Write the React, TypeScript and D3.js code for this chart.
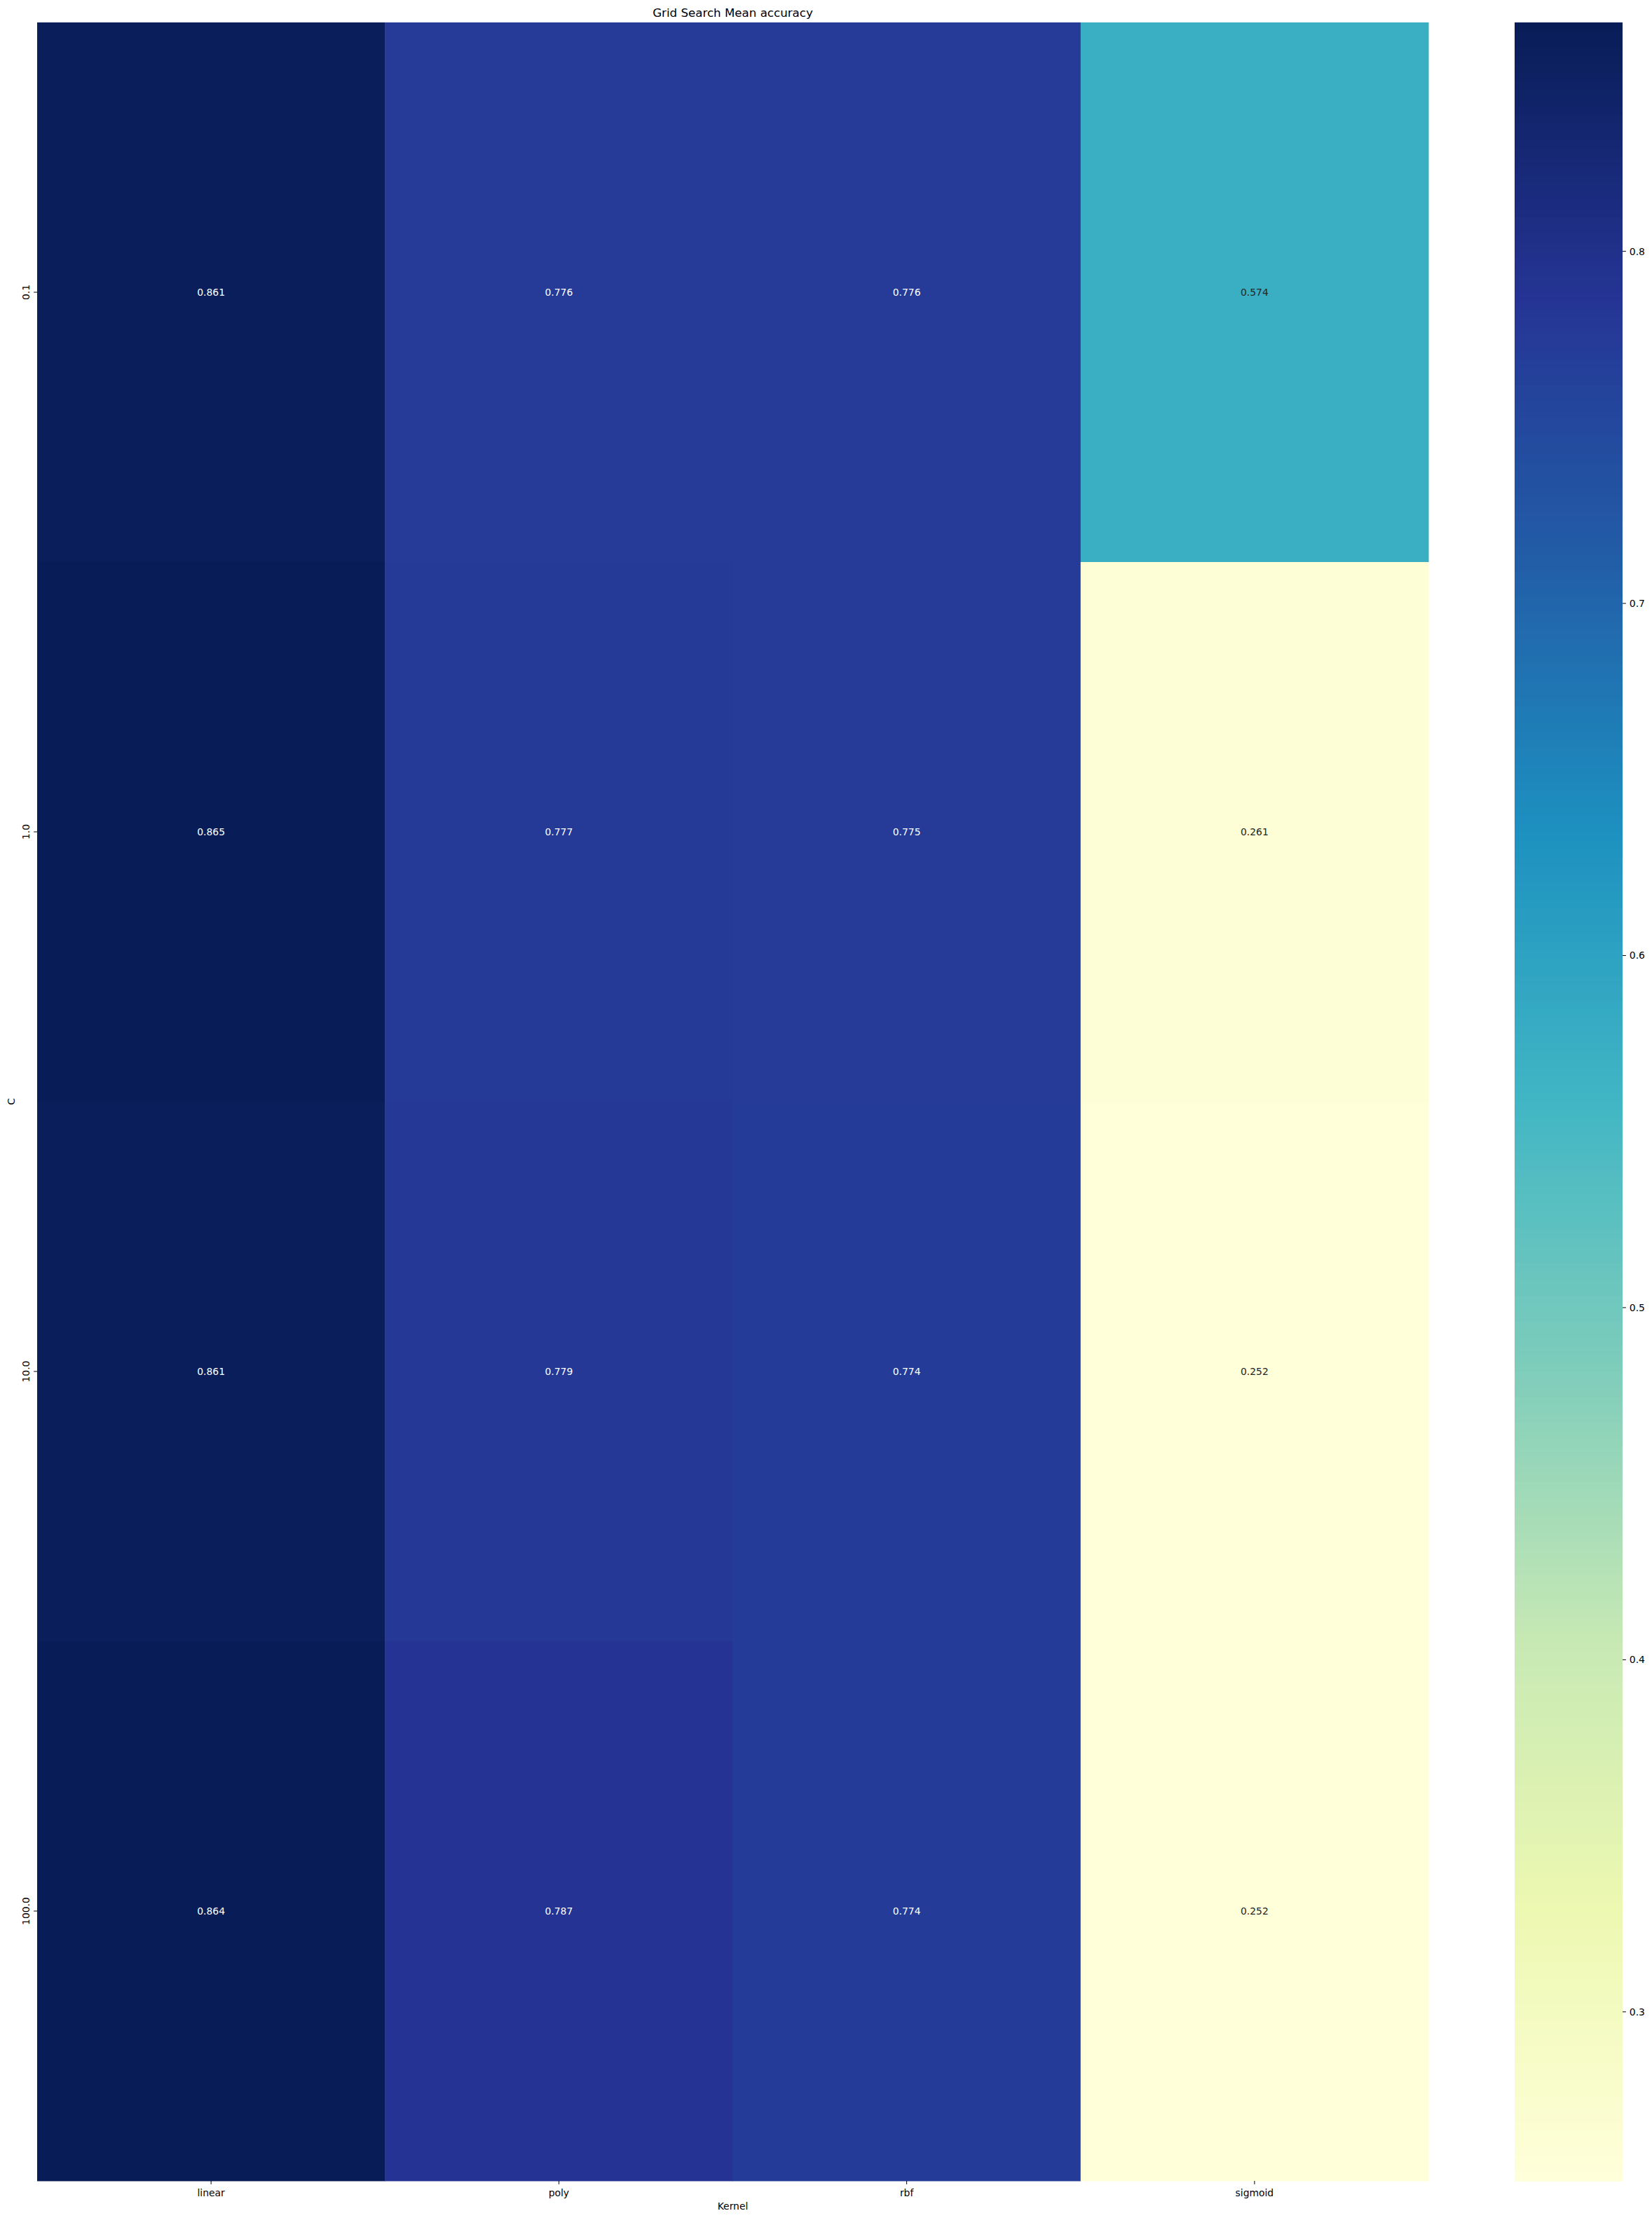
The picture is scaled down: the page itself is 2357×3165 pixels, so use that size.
import * as d3 from "d3";

const kernels = ["linear", "poly", "rbf", "sigmoid"];
const cValues = ["0.1", "1.0", "10.0", "100.0"];
// mean accuracy, one row per C value, columns follow kernels
const row01 = [0.861, 0.776, 0.776, 0.574];
const row1 = [0.865, 0.777, 0.775, 0.261];
const row10 = [0.861, 0.779, 0.774, 0.252];
const row100 = [0.864, 0.787, 0.774, 0.252];
const scores = [row01, row1, row10, row100];
const cbarTicks = [0.3, 0.4, 0.5, 0.6, 0.7, 0.8];

// matplotlib YlGnBu anchors
const ylgnbu = ["#ffffd9", "#edf8b1", "#c7e9b4", "#7fcdbb", "#41b6c4", "#1d91c0", "#225ea8", "#253494", "#081d58"];

const W = 2357;
const H = 3165;
const margin = { top: 32, left: 53, right: 2038, bottom: 3112 };
const cbar = { x0: 2161, x1: 2315 };
const font = "DejaVu Sans, sans-serif";
const fs = 13.9;

const App = () => {
    const allVals = scores.flat();
    const vmin = d3.min(allVals) as number;
    const vmax = d3.max(allVals) as number;

    const x = d3.scaleBand().domain(kernels).range([margin.left, margin.right]);
    const y = d3.scaleBand().domain(cValues).range([margin.top, margin.bottom]);
    const norm = d3.scaleLinear().domain([vmin, vmax]).range([0, 1]).clamp(true);
    const cmapCont = d3.scaleLinear<string>()
        .domain(d3.range(ylgnbu.length).map(i => i / (ylgnbu.length - 1)))
        .range(ylgnbu)
        .interpolate(d3.interpolateRgb);
    const cmap = (t: number) => cmapCont(Math.min(255, Math.floor(t * 256)) / 255);
    const color = (v: number) => cmap(norm(v));

    const textColor = (v: number) => {
        const c = d3.rgb(color(v));
        const lin = [c.r, c.g, c.b].map(u => {
            const s = u / 255;
            return s <= 0.03928 ? s / 12.92 : Math.pow((s + 0.055) / 1.055, 2.4);
        });
        const lum = 0.2126 * lin[0] + 0.7152 * lin[1] + 0.0722 * lin[2];
        return lum > 0.3 ? "#262626" : "#ffffff";
    };

    const cy = d3.scaleLinear().domain([vmin, vmax]).range([margin.bottom, margin.top]);
    const steps = d3.range(256);
    const stepH = (margin.bottom - margin.top) / 256;

    return (
        <svg width={W} height={H} style={{ position: "absolute", left: 0, top: 0, background: "#fff" }} fontFamily={font}>
            <text x={(margin.left + margin.right) / 2} y={24} textAnchor="middle" fontSize={16.67} fill="#000">
                Grid Search Mean accuracy
            </text>

            {scores.map((row, i) =>
                row.map((v, j) => (
                    <g key={`${i}-${j}`}>
                        <rect
                            x={x(kernels[j])}
                            y={y(cValues[i])}
                            width={x.bandwidth() + 0.5}
                            height={y.bandwidth() + 0.5}
                            fill={color(v)}
                        />
                        <text
                            x={(x(kernels[j]) as number) + x.bandwidth() / 2}
                            y={(y(cValues[i]) as number) + y.bandwidth() / 2}
                            textAnchor="middle"
                            dominantBaseline="central"
                            fontSize={fs}
                            fill={textColor(v)}
                        >
                            {v.toFixed(3)}
                        </text>
                    </g>
                ))
            )}

            {kernels.map(k => {
                const cx = (x(k) as number) + x.bandwidth() / 2;
                return (
                    <g key={k}>
                        <line x1={cx} x2={cx} y1={margin.bottom} y2={margin.bottom + 4.9} stroke="#000" strokeWidth={1} />
                        <text x={cx} y={3134} textAnchor="middle" fontSize={fs} fill="#000">{k}</text>
                    </g>
                );
            })}
            <text x={(margin.left + margin.right) / 2} y={3153} textAnchor="middle" fontSize={fs} fill="#000">Kernel</text>

            {cValues.map(c => {
                const cyy = (y(c) as number) + y.bandwidth() / 2;
                return (
                    <g key={c}>
                        <line x1={margin.left - 4.9} x2={margin.left} y1={cyy} y2={cyy} stroke="#000" strokeWidth={1} />
                        <text transform={`translate(42,${cyy}) rotate(-90)`} textAnchor="middle" fontSize={fs} fill="#000">{c}</text>
                    </g>
                );
            })}
            <text transform={`translate(21,${(margin.top + margin.bottom) / 2}) rotate(-90)`} textAnchor="middle" fontSize={fs} fill="#000">C</text>

            <g shapeRendering="crispEdges">
                {steps.map(i => (
                    <rect
                        key={i}
                        x={cbar.x0}
                        y={margin.bottom - (i + 1) * stepH}
                        width={cbar.x1 - cbar.x0}
                        height={stepH + 1}
                        fill={cmap(i / 256 + 0.5 / 256)}
                    />
                ))}
            </g>
            {cbarTicks.map(t => (
                <g key={t}>
                    <line x1={cbar.x1} x2={cbar.x1 + 4.9} y1={cy(t)} y2={cy(t)} stroke="#000" strokeWidth={1} />
                    <text x={cbar.x1 + 9.8} y={cy(t)} dominantBaseline="central" fontSize={fs} fill="#000">{t.toFixed(1)}</text>
                </g>
            ))}
        </svg>
    );
};

export default App;
